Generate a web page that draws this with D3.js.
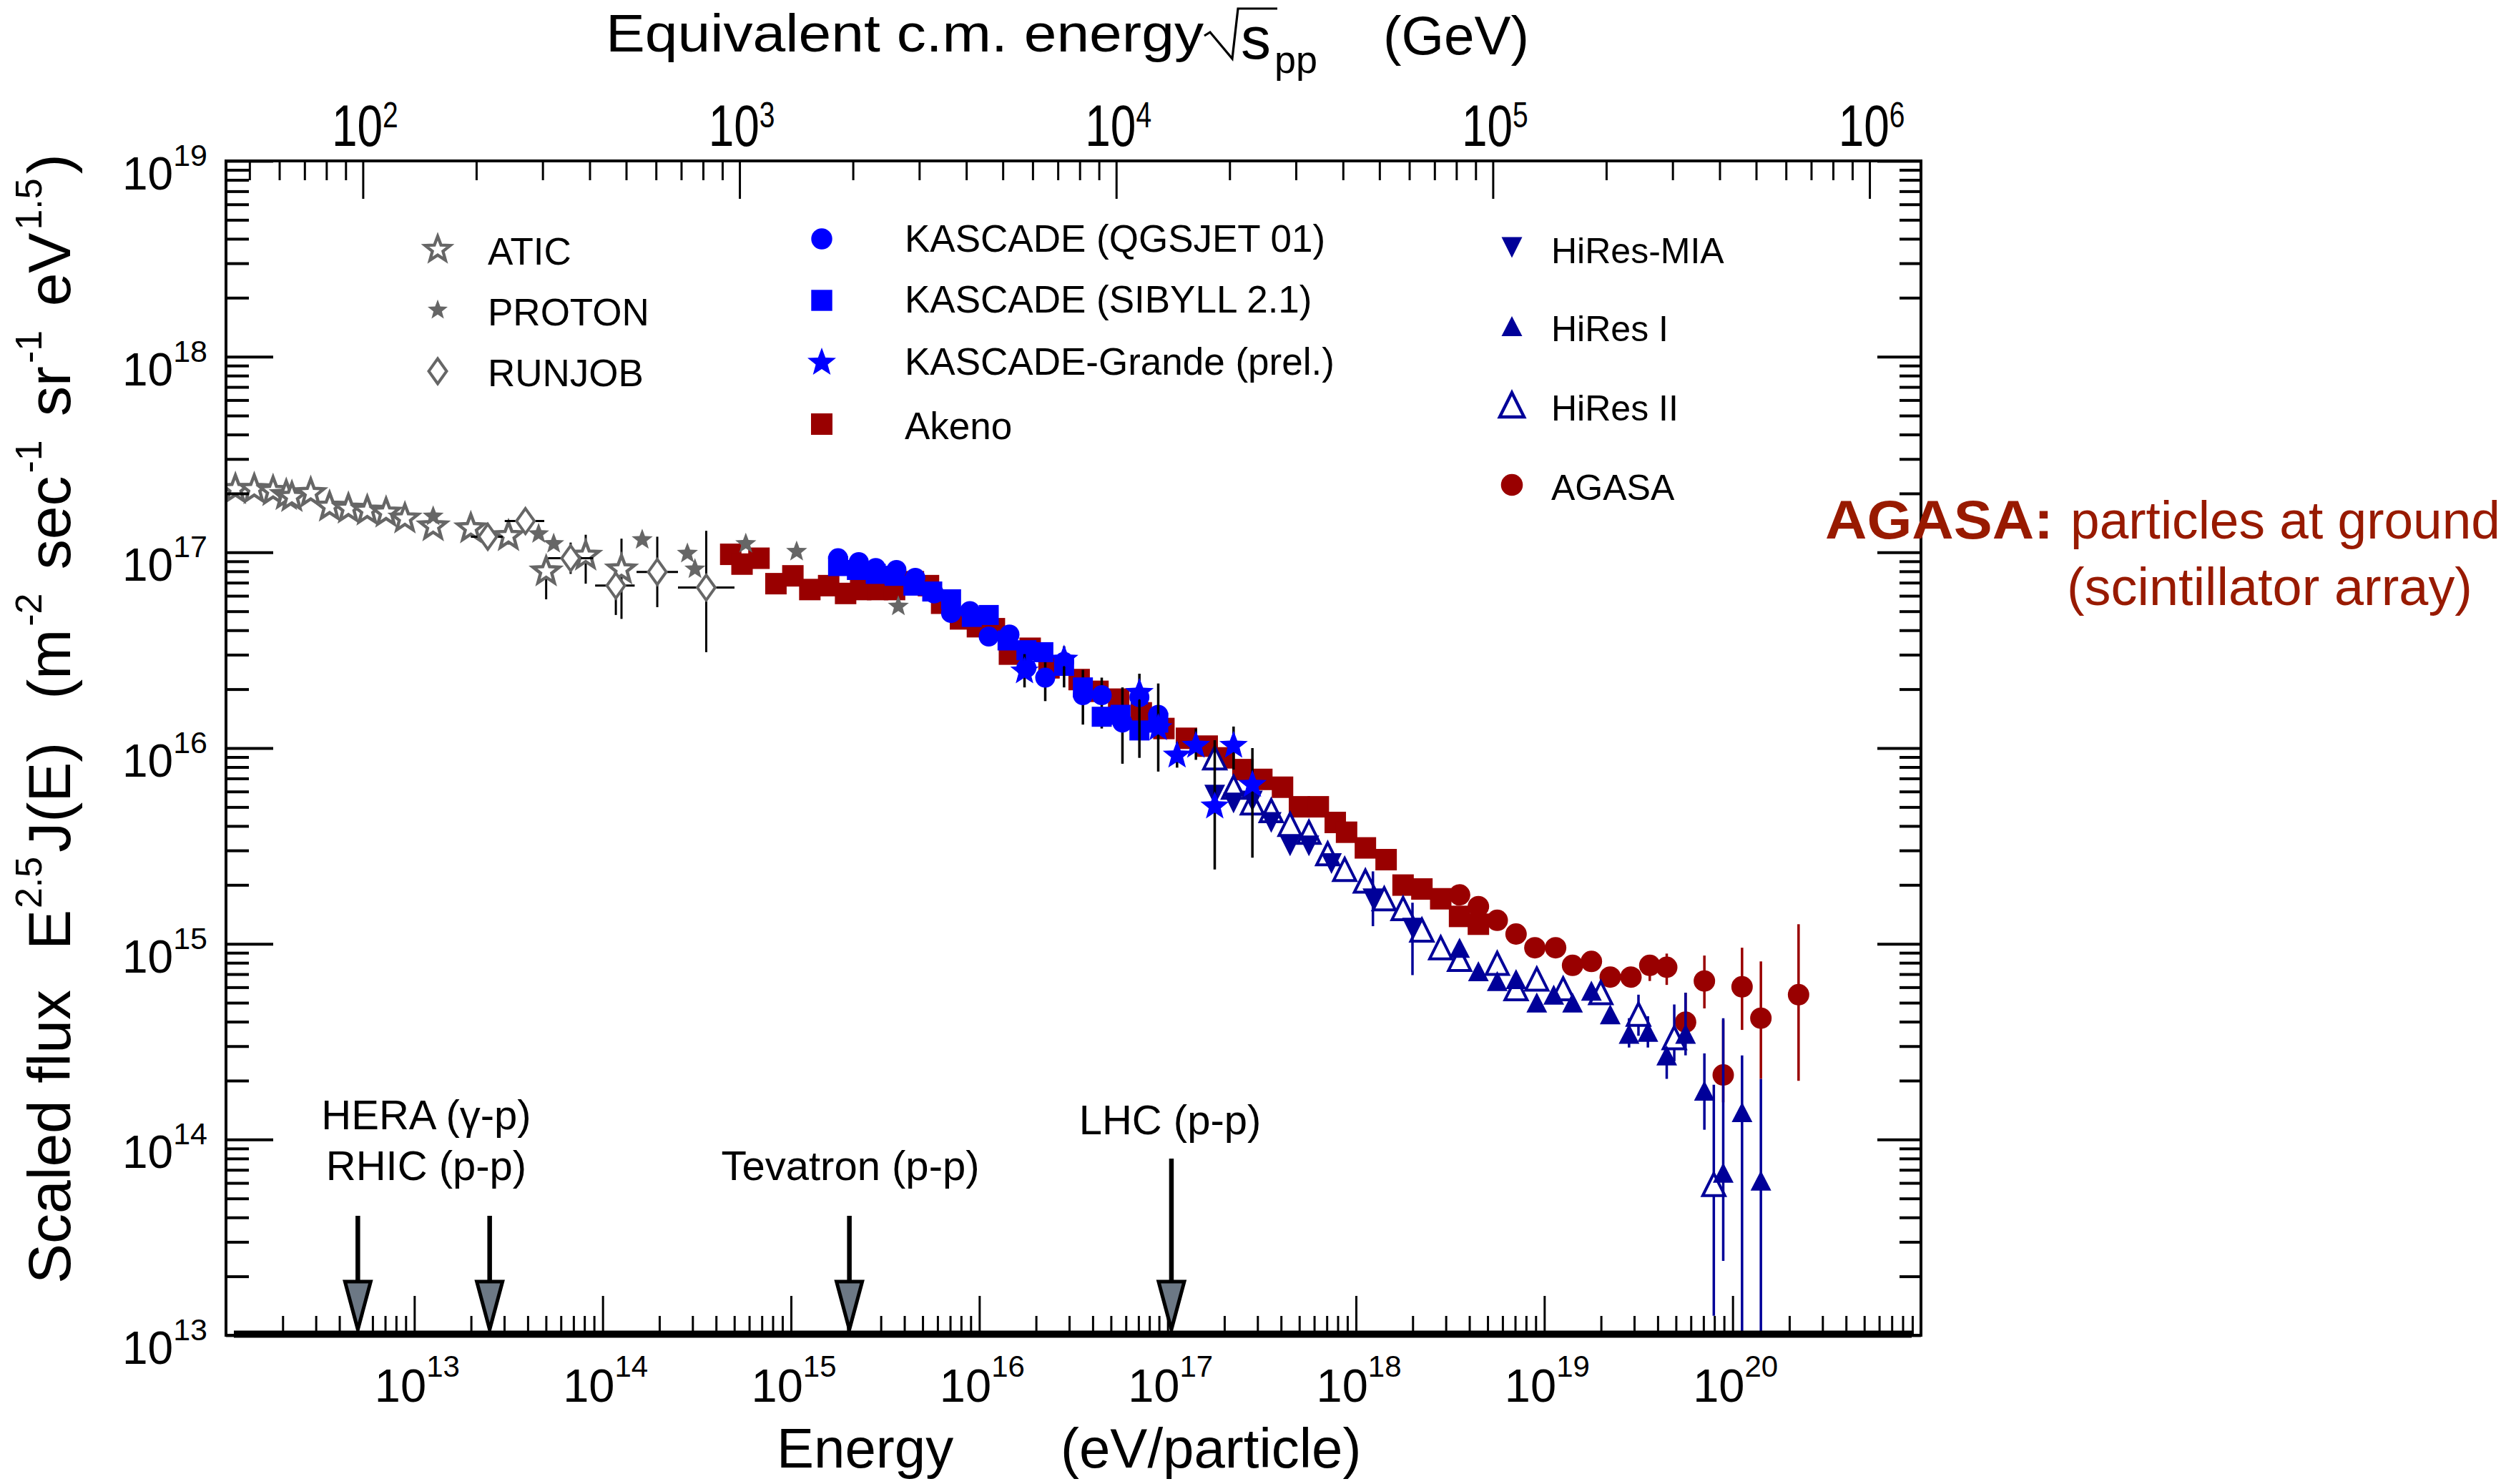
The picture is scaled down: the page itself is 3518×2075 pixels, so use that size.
<!DOCTYPE html>
<html>
<head>
<meta charset="utf-8">
<script src="https://cdn.jsdelivr.net/npm/d3@7"></script>
<style>
  html, body { margin: 0; padding: 0; background: #ffffff; }
  svg { display: block; }
  text { font-family: "Liberation Sans", Arial, Helvetica, sans-serif; fill: #000; }
</style>
</head>
<body>
<svg id="chart" width="3518" height="2075"></svg>
<script>
// ---------------------------------------------------------------------------
// Cosmic-ray all-particle spectrum, scaled by E^2.5.
// Values are log10(E / eV) and log10(E^2.5 J(E) / m^-2 s^-1 sr^-1 eV^1.5).
// ---------------------------------------------------------------------------

// ATIC (open grey stars)
const aticLogE = [12.05, 12.15, 12.25, 12.32, 12.35, 12.45, 12.55, 12.65, 12.75, 12.85, 12.95, 13.10, 13.30, 13.50, 13.70, 13.91, 14.10];
const aticLogJ = [17.33, 17.33, 17.32, 17.30, 17.29, 17.31, 17.24, 17.23, 17.22, 17.21, 17.18, 17.14, 17.13, 17.09, 16.91, 16.99, 16.92];
const aticErrLo = [null, null, null, null, null, null, null, null, null, null, null, null, null, 17.04, 16.76, 16.84, 16.66];
const aticErrHi = [null, null, null, null, null, null, null, null, null, null, null, null, null, 17.14, 16.95, 17.09, 17.07];

// PROTON satellites (filled grey stars)
const protonLogE = [13.10, 13.66, 13.74, 14.21, 14.45, 14.49, 14.76, 15.03, 15.57];
const protonLogJ = [17.19, 17.10, 17.05, 17.07, 17.00, 16.92, 17.05, 17.01, 16.73];

// RUNJOB (open grey diamonds, with energy and flux bars)
const runjobLogE = [13.39, 13.59, 13.83, 14.07, 14.29, 14.55];
const runjobLogJ = [17.08, 17.16, 16.97, 16.83, 16.90, 16.82];
const runjobELo  = [13.30, 13.48, 13.71, 13.96, 14.18, 14.40];
const runjobEHi  = [13.47, 13.69, 13.95, 14.17, 14.40, 14.70];
const runjobErrLo = [17.02, 17.10, 16.89, 16.68, 16.72, 16.49];
const runjobErrHi = [17.14, 17.22, 17.05, 16.89, 17.08, 17.11];

// Akeno (dark red squares)
const akenoLogE = [14.68, 14.74, 14.83, 14.92, 15.01, 15.10, 15.20, 15.29, 15.37, 15.46, 15.55, 15.65, 15.73, 15.80,
                   15.90, 15.99, 16.08, 16.16, 16.27, 16.37, 16.53, 16.63, 16.74, 16.86, 16.98, 17.10, 17.21, 17.30,
                   17.40, 17.50, 17.61, 17.70, 17.80, 17.89, 17.95, 18.05, 18.16, 18.25, 18.35, 18.45, 18.55, 18.65];
const akenoLogJ = [16.99, 16.94, 16.97, 16.84, 16.88, 16.81, 16.83, 16.79, 16.81, 16.81, 16.81, 16.85, 16.83, 16.74,
                   16.66, 16.62, 16.61, 16.48, 16.51, 16.41, 16.35, 16.29, 16.25, 16.18, 16.10, 16.05, 16.01, 15.95,
                   15.89, 15.84, 15.80, 15.70, 15.70, 15.62, 15.57, 15.49, 15.43, 15.30, 15.28, 15.23, 15.14, 15.10];

// KASCADE, QGSJET 01 unfolding (blue circles)
const kqLogE = [15.25, 15.36, 15.45, 15.56, 15.66, 15.76, 15.85, 15.95, 16.05, 16.16, 16.25, 16.35, 16.45, 16.55, 16.65, 16.76, 16.85, 16.95];
const kqLogJ = [16.97, 16.95, 16.92, 16.91, 16.87, 16.79, 16.69, 16.70, 16.57, 16.58, 16.41, 16.36, 16.44, 16.27, 16.27, 16.13, 16.26, 16.17];
const kqErrLo = [null, null, null, null, null, null, null, null, null, null, null, 16.24, null, 16.12, 16.10, 15.92, null, null];
const kqErrHi = [null, null, null, null, null, null, null, null, null, null, null, 16.46, null, 16.40, 16.36, 16.31, null, null];

// KASCADE, SIBYLL 2.1 unfolding (blue squares)
const ksLogE = [15.25, 15.35, 15.45, 15.55, 15.65, 15.75, 15.85, 15.96, 16.05, 16.15, 16.25, 16.34, 16.45, 16.55, 16.65, 16.75, 16.85, 16.95];
const ksLogJ = [16.93, 16.91, 16.89, 16.88, 16.83, 16.80, 16.76, 16.67, 16.68, 16.55, 16.50, 16.49, 16.42, 16.31, 16.16, 16.17, 16.09, 16.13];

// KASCADE-Grande, preliminary (blue stars)
const kgLogE = [16.24, 16.45, 16.85, 16.95, 17.05, 17.15, 17.25, 17.35, 17.45];
const kgLogJ = [16.40, 16.46, 16.29, 16.11, 15.97, 16.02, 15.71, 16.02, 15.82];
const kgErrLo = [16.31, 16.31, 15.95, 15.88, 15.90, 15.94, 15.38, 15.89, 15.44];
const kgErrHi = [16.48, 16.52, 16.38, 16.33, 16.03, 16.10, 16.04, 16.11, 16.00];

// HiRes-MIA (navy inverted triangles)
const mia_LogE = [17.25, 17.35, 17.45, 17.55, 17.65, 17.75, 17.87, 18.09, 18.30];
const mia_LogJ = [15.76, 15.72, 15.73, 15.62, 15.50, 15.50, 15.41, 15.23, 15.08];
const mia_ErrLo = [null, null, null, null, null, null, null, 15.09, 14.84];
const mia_ErrHi = [null, null, null, null, null, null, null, 15.37, 15.21];

// HiRes I (navy filled triangles)
const hr1LogE = [18.55, 18.65, 18.75, 18.85, 18.96, 19.05, 19.15, 19.25, 19.35, 19.45, 19.55, 19.65, 19.75, 19.85, 19.95, 20.05, 20.15];
const hr1LogJ = [14.98, 14.86, 14.81, 14.82, 14.70, 14.74, 14.70, 14.76, 14.64, 14.54, 14.55, 14.43, 14.54, 14.25, 13.83, 14.14, 13.79];
const hr1ErrLo = [null, null, null, null, null, null, null, null, null, 14.47, 14.47, 14.31, 14.43, 14.05, 13.38, 12.50, 12.50];
const hr1ErrHi = [null, null, null, null, null, null, null, null, null, 14.62, 14.63, 14.47, 14.75, 14.44, 14.62, 14.43, 14.31];

// HiRes II (navy open triangles)
const hr2LogE = [17.25, 17.35, 17.45, 17.55, 17.65, 17.75, 17.85, 17.94, 18.05, 18.15, 18.25, 18.35, 18.45, 18.55,
                 18.75, 18.85, 18.96, 19.10, 19.30, 19.50, 19.69, 19.90];
const hr2LogJ = [15.95, 15.80, 15.72, 15.68, 15.61, 15.57, 15.46, 15.38, 15.32, 15.23, 15.18, 15.07, 14.98, 14.92,
                 14.90, 14.77, 14.82, 14.77, 14.75, 14.64, 14.52, 13.77];
const hr2ErrLo = [null, null, null, null, null, null, null, null, null, null, null, null, null, null,
                  null, null, null, null, null, 14.53, 14.40, 13.10];
const hr2ErrHi = [null, null, null, null, null, null, null, null, null, null, null, null, null, null,
                  null, null, null, null, null, 14.74, 14.69, 14.28];

// AGASA (dark red circles)
const agasaLogE = [18.55, 18.65, 18.75, 18.85, 18.95, 19.06, 19.15, 19.25, 19.35, 19.46, 19.56, 19.65, 19.75, 19.85, 19.95, 20.05, 20.15, 20.35];
const agasaLogJ = [15.25, 15.19, 15.12, 15.05, 14.98, 14.98, 14.89, 14.91, 14.83, 14.83, 14.89, 14.88, 14.60, 14.81, 14.33, 14.78, 14.62, 14.74];
const agasaErrLo = [null, null, null, null, null, null, null, null, null, 14.80, 14.81, 14.79, 14.53, 14.67, 14.19, 14.56, 14.31, 14.30];
const agasaErrHi = [null, null, null, null, null, null, null, null, null, 14.87, 14.93, 14.95, 14.75, 14.94, 14.61, 14.98, 14.91, 15.10];

// Collider reference energies (fixed-target equivalent, log10 eV)
const acceleratorNames = ["HERA", "RHIC", "Tevatron", "LHC"];
const acceleratorLogE  = [12.70, 13.40, 15.31, 17.02];

// Axis tick labels
const energyTickExps = [13, 14, 15, 16, 17, 18, 19, 20];
const fluxTickExps   = [13, 14, 15, 16, 17, 18, 19];
const sqrtsTickExps  = [2, 3, 4, 5, 6];

// ---------------------------------------------------------------------------
const W = 3518, H = 2075;
const M = { left: 316, right: 2686, top: 225, bottom: 1867 };
const PROTON_MASS_GEV = 0.938;
const sqrtS = e => Math.sqrt(2 * PROTON_MASS_GEV * e / 1e9);   // GeV, E in eV

const x = d3.scaleLog().domain([1e12, 1e21]).range([M.left, M.right]);
const y = d3.scaleLog().domain([1e13, 1e19]).range([M.bottom, M.top]);
const xTop = d3.scaleLog().domain([sqrtS(1e12), sqrtS(1e21)]).range([M.left, M.right]);

const GREY = "#666666", BLUE = "#0000ff", RED = "#990000", NAVY = "#000099";

const svg = d3.select("#chart");
svg.append("rect").attr("width", W).attr("height", H).attr("fill", "#ffffff");

svg.append("clipPath").attr("id", "plotClip").append("rect")
  .attr("x", M.left).attr("y", M.top)
  .attr("width", M.right - M.left).attr("height", M.bottom - M.top);

// ---- marker shapes --------------------------------------------------------
const shape = {
  star: (R, ratio) => {
    let s = "";
    for (let k = 0; k < 10; k++) {
      const r = k % 2 ? R * ratio : R;
      const a = -Math.PI / 2 + k * Math.PI / 5;
      s += (k ? "L" : "M") + (r * Math.cos(a)).toFixed(2) + "," + (r * Math.sin(a) + 0.1 * R).toFixed(2);
    }
    return s + "Z";
  },
  square: s => `M${-s / 2},${-s / 2}h${s}v${s}h${-s}Z`,
  circle: r => `M${r},0A${r},${r} 0 1,1 ${-r},0A${r},${r} 0 1,1 ${r},0Z`,
  triUp: (w, h) => `M0,${-h / 2}L${w / 2},${h / 2}L${-w / 2},${h / 2}Z`,
  triDown: (w, h) => `M0,${h / 2}L${w / 2},${-h / 2}L${-w / 2},${-h / 2}Z`,
  diamond: (w, h) => `M0,${-h / 2}L${w / 2},0L0,${h / 2}L${-w / 2},0Z`
};

const styles = {
  atic:   { d: shape.star(19.5, 0.42), fill: "#ffffff", stroke: GREY, sw: 4.5 },
  proton: { d: shape.star(15.5, 0.42), fill: GREY, stroke: "none", sw: 0 },
  runjob: { d: shape.diamond(25, 35), fill: "#ffffff", stroke: GREY, sw: 4 },
  kq:     { d: shape.circle(14), fill: BLUE, stroke: "none", sw: 0 },
  ks:     { d: shape.square(28), fill: BLUE, stroke: "none", sw: 0 },
  kg:     { d: shape.star(21, 0.42), fill: BLUE, stroke: "none", sw: 0 },
  akeno:  { d: shape.square(30), fill: RED, stroke: "none", sw: 0 },
  mia:    { d: shape.triDown(29, 29), fill: NAVY, stroke: "none", sw: 0 },
  hr1:    { d: shape.triUp(29, 28), fill: NAVY, stroke: "none", sw: 0 },
  hr2:    { d: shape.triUp(31, 31), fill: "#ffffff", stroke: NAVY, sw: 4 },
  agasa:  { d: shape.circle(15), fill: RED, stroke: "none", sw: 0 }
};

// ---- data layer ------------------------------------------------------------
const plot = svg.append("g").attr("clip-path", "url(#plotClip)");

function drawSeries(logE, logJ, style, opt = {}) {
  const pts = logE.map((e, i) => ({
    e: 10 ** e, j: 10 ** logJ[i],
    lo: opt.errLo ? opt.errLo[i] : null, hi: opt.errHi ? opt.errHi[i] : null,
    elo: opt.eLo ? opt.eLo[i] : null, ehi: opt.eHi ? opt.eHi[i] : null
  }));
  const g = plot.append("g");
  const ec = opt.errColor || "#000";
  g.selectAll("line.ey").data(pts.filter(p => p.lo != null)).join("line")
    .attr("x1", p => x(p.e)).attr("x2", p => x(p.e))
    .attr("y1", p => y(10 ** p.lo)).attr("y2", p => y(10 ** p.hi))
    .attr("stroke", ec).attr("stroke-width", opt.errWidth || 3.5);
  g.selectAll("line.ex").data(pts.filter(p => p.elo != null)).join("line")
    .attr("x1", p => x(10 ** p.elo)).attr("x2", p => x(10 ** p.ehi))
    .attr("y1", p => y(p.j)).attr("y2", p => y(p.j))
    .attr("stroke", ec).attr("stroke-width", opt.errWidth || 3.5);
  g.selectAll("path").data(pts).join("path")
    .attr("transform", p => `translate(${x(p.e)},${y(p.j)})`)
    .attr("d", style.d).attr("fill", style.fill)
    .attr("stroke", style.stroke).attr("stroke-width", style.sw)
    .attr("stroke-linejoin", "miter");
}

drawSeries(akenoLogE, akenoLogJ, styles.akeno);
drawSeries(aticLogE, aticLogJ, styles.atic, { errLo: aticErrLo, errHi: aticErrHi, errWidth: 3 });
drawSeries(runjobLogE, runjobLogJ, styles.runjob, { errLo: runjobErrLo, errHi: runjobErrHi, eLo: runjobELo, eHi: runjobEHi, errWidth: 3 });
drawSeries(protonLogE, protonLogJ, styles.proton);
drawSeries(agasaLogE, agasaLogJ, styles.agasa, { errLo: agasaErrLo, errHi: agasaErrHi, errColor: RED, errWidth: 3.5 });
drawSeries(hr2LogE, hr2LogJ, styles.hr2, { errLo: hr2ErrLo, errHi: hr2ErrHi, errColor: NAVY, errWidth: 3.5 });
drawSeries(mia_LogE, mia_LogJ, styles.mia, { errLo: mia_ErrLo, errHi: mia_ErrHi, errColor: NAVY, errWidth: 3.5 });
drawSeries(hr1LogE, hr1LogJ, styles.hr1, { errLo: hr1ErrLo, errHi: hr1ErrHi, errColor: NAVY, errWidth: 3.5 });
drawSeries(kqLogE, kqLogJ, styles.kq, { errLo: kqErrLo, errHi: kqErrHi, errWidth: 3.5 });
drawSeries(ksLogE, ksLogJ, styles.ks);
drawSeries(kgLogE, kgLogJ, styles.kg, { errLo: kgErrLo, errHi: kgErrHi, errWidth: 3.5 });

// ---- frame and axes --------------------------------------------------------
svg.append("rect").attr("x", M.left).attr("y", M.top)
  .attr("width", M.right - M.left).attr("height", M.bottom - M.top)
  .attr("fill", "none").attr("stroke", "#000").attr("stroke-width", 4);

function logTicks(scale) {
  const [a, b] = scale.domain();
  const major = [], minor = [];
  for (let p = Math.floor(Math.log10(a)); p <= Math.ceil(Math.log10(b)); p++) {
    for (let k = 1; k < 10; k++) {
      const v = k * Math.pow(10, p);
      if (v < a * 0.9999 || v > b * 1.0001) continue;
      (k === 1 ? major : minor).push(v);
    }
  }
  return { major, minor };
}

function tickSet(axisFn, scale, values, size, tx, ty, width) {
  const g = svg.append("g").attr("transform", `translate(${tx},${ty})`)
    .call(axisFn(scale).tickValues(values).tickSize(size).tickSizeOuter(0).tickFormat(""));
  g.select(".domain").remove();
  g.selectAll(".tick line").attr("stroke", "#000").attr("stroke-width", width);
}

const xt = logTicks(x), yt = logTicks(y), tt = logTicks(xTop);
tickSet(d3.axisTop, x, xt.major, 55, 0, M.bottom, 3);
tickSet(d3.axisTop, x, xt.minor, 27, 0, M.bottom, 3);
tickSet(d3.axisBottom, xTop, tt.major, 53, 0, M.top, 3);
tickSet(d3.axisBottom, xTop, tt.minor, 27, 0, M.top, 3);
tickSet(d3.axisRight, y, yt.major, 66, M.left, 0, 4);
tickSet(d3.axisRight, y, yt.minor, 32, M.left, 0, 4);
tickSet(d3.axisLeft, y, yt.major, 61, M.right, 0, 4);
tickSet(d3.axisLeft, y, yt.minor, 30, M.right, 0, 4);

// heavy energy baseline
svg.append("line").attr("x1", M.left + 11).attr("x2", M.right - 13)
  .attr("y1", M.bottom - 1.5).attr("y2", M.bottom - 1.5)
  .attr("stroke", "#000").attr("stroke-width", 10);

// ---- tick labels -----------------------------------------------------------
function powerText(parent, base, exp, fs, sfs, rise) {
  const t = parent.append("text");
  t.append("tspan").attr("font-size", fs).text(base);
  t.append("tspan").attr("font-size", sfs).attr("dy", -rise).text(exp);
  return t;
}

energyTickExps.forEach(p => {
  powerText(svg, "10", String(p), 65, 42, 35)
    .attr("x", x(10 ** p) + 4).attr("y", 1960).attr("text-anchor", "middle");
});
fluxTickExps.forEach(p => {
  powerText(svg, "10", String(p), 64, 43, 33)
    .attr("x", 290).attr("y", y(10 ** p) + 40).attr("text-anchor", "end");
});
sqrtsTickExps.forEach(p => {
  const g = svg.append("g").attr("transform", `translate(${xTop(10 ** p) + 3},204) scale(0.78,1)`);
  powerText(g, "10", String(p), 82, 50, 26).attr("text-anchor", "middle");
});

// ---- axis titles -----------------------------------------------------------
svg.append("text").attr("x", 1086).attr("y", 2052).attr("font-size", 78).text("Energy");
svg.append("text").attr("x", 1483).attr("y", 2052).attr("font-size", 78).text("(eV/particle)");

svg.append("text").attr("x", 847).attr("y", 72).attr("font-size", 74)
  .attr("textLength", 836).attr("lengthAdjust", "spacingAndGlyphs").text("Equivalent c.m. energy");
svg.append("path").attr("d", "M1684,50L1692,45L1723,82L1731,12H1786")
  .attr("fill", "none").attr("stroke", "#000").attr("stroke-width", 3.2).attr("stroke-linejoin", "miter");
svg.append("text").attr("x", 1735).attr("y", 82).attr("font-size", 84).text("s");
svg.append("text").attr("x", 1782).attr("y", 102).attr("font-size", 54).text("pp");
svg.append("text").attr("x", 1934).attr("y", 76).attr("font-size", 76)
  .attr("textLength", 204).attr("lengthAdjust", "spacingAndGlyphs").text("(GeV)");

const yTitle = svg.append("text").attr("transform", "translate(98,1795) rotate(-90)").attr("font-size", 84);
const ySeg = [
  ["Scaled flux", 0, null], ["E", 0, 56], ["2.5", -40, 2], ["J(E)", 40, 6],
  ["(m", 0, 60], ["-2", -40, 4], [" sec", 40, 10], ["-1", -40, 4],
  [" sr", 40, 10], ["-1", -40, 4], [" eV", 40, 10], ["1.5", -40, 4], [")", 40, 6]
];
ySeg.forEach(([s, dy, dx]) => {
  const ts = yTitle.append("tspan").text(s);
  if (dy) ts.attr("dy", dy);
  if (dx != null) ts.attr("dx", dx);
  if (dy < 0) ts.attr("font-size", 52);
});

// ---- collider markers ------------------------------------------------------
const arrowTops = [1700, 1700, 1700, 1620];
acceleratorLogE.forEach((le, i) => {
  const ax = x(10 ** le);
  svg.append("line").attr("x1", ax).attr("x2", ax).attr("y1", arrowTops[i]).attr("y2", 1792)
    .attr("stroke", "#000").attr("stroke-width", 6.5);
  svg.append("path").attr("d", `M${ax - 18},1792L${ax + 18},1792L${ax},1859Z`)
    .attr("fill", "#6c7885").attr("stroke", "#000").attr("stroke-width", 5).attr("stroke-linejoin", "miter");
});
const accelLabels = [
  { text: "HERA (γ-p)", cx: 596, y: 1579 },
  { text: "RHIC (p-p)", cx: 596, y: 1650 },
  { text: "Tevatron (p-p)", cx: 1189, y: 1650 },
  { text: "LHC (p-p)", cx: 1636, y: 1586 }
];
accelLabels.forEach(l => {
  svg.append("text").attr("x", l.cx).attr("y", l.y).attr("font-size", 58)
    .attr("text-anchor", "middle").text(l.text);
});

// ---- legend ----------------------------------------------------------------
const legendEntries = [
  { label: "ATIC", st: "atic", sx: 612, sy: 347, tx: 682, ty: 370, fs: 53 },
  { label: "PROTON", st: "proton", sx: 612, sy: 432, tx: 682, ty: 455, fs: 53 },
  { label: "RUNJOB", st: "runjob", sx: 612, sy: 519, tx: 682, ty: 540, fs: 53 },
  { label: "KASCADE (QGSJET 01)", st: "kq", sx: 1149, sy: 334, tx: 1265, ty: 352, fs: 53 },
  { label: "KASCADE (SIBYLL 2.1)", st: "ks", sx: 1149, sy: 420, tx: 1265, ty: 437, fs: 53 },
  { label: "KASCADE-Grande (prel.)", st: "kg", sx: 1149, sy: 505, tx: 1265, ty: 524, fs: 53 },
  { label: "Akeno", st: "akeno", sx: 1149, sy: 593, tx: 1265, ty: 614, fs: 53 },
  { label: "HiRes-MIA", st: "mia", sx: 2114, sy: 346, tx: 2169, ty: 368, fs: 50 },
  { label: "HiRes I", st: "hr1", sx: 2114, sy: 456, tx: 2169, ty: 477, fs: 50 },
  { label: "HiRes II", st: "hr2", sx: 2114, sy: 566, tx: 2169, ty: 588, fs: 50 },
  { label: "AGASA", st: "agasa", sx: 2114, sy: 678, tx: 2169, ty: 699, fs: 50 }
];
const legendSize = { atic: 0.95, proton: 0.95, runjob: 1, kq: 1.05, ks: 1.05, kg: 1, akeno: 1, mia: 1, hr1: 1, hr2: 1.1, agasa: 1.02 };
legendEntries.forEach(e => {
  const s = styles[e.st];
  svg.append("path").attr("transform", `translate(${e.sx},${e.sy}) scale(${legendSize[e.st]})`)
    .attr("d", s.d).attr("fill", s.fill).attr("stroke", s.stroke).attr("stroke-width", s.sw);
  svg.append("text").attr("x", e.tx).attr("y", e.ty).attr("font-size", e.fs).text(e.label);
});

// ---- AGASA note --------------------------------------------------------------
const NOTE = "#981a00";
const noteFont = "Lato, 'Open Sans', 'Noto Sans', sans-serif";
svg.append("text").attr("x", 2552).attr("y", 753).attr("font-family", noteFont)
  .attr("font-weight", "bold").attr("font-size", 76).style("fill", NOTE)
  .attr("textLength", 319).attr("lengthAdjust", "spacingAndGlyphs").text("AGASA:");
svg.append("text").attr("x", 2895).attr("y", 753).attr("font-family", noteFont)
  .attr("font-size", 74).style("fill", NOTE)
  .attr("textLength", 601).attr("lengthAdjust", "spacingAndGlyphs").text("particles at ground");
svg.append("text").attr("x", 2890).attr("y", 846).attr("font-family", noteFont)
  .attr("font-size", 74).style("fill", NOTE)
  .attr("textLength", 567).attr("lengthAdjust", "spacingAndGlyphs").text("(scintillator array)");
</script>
</body>
</html>
